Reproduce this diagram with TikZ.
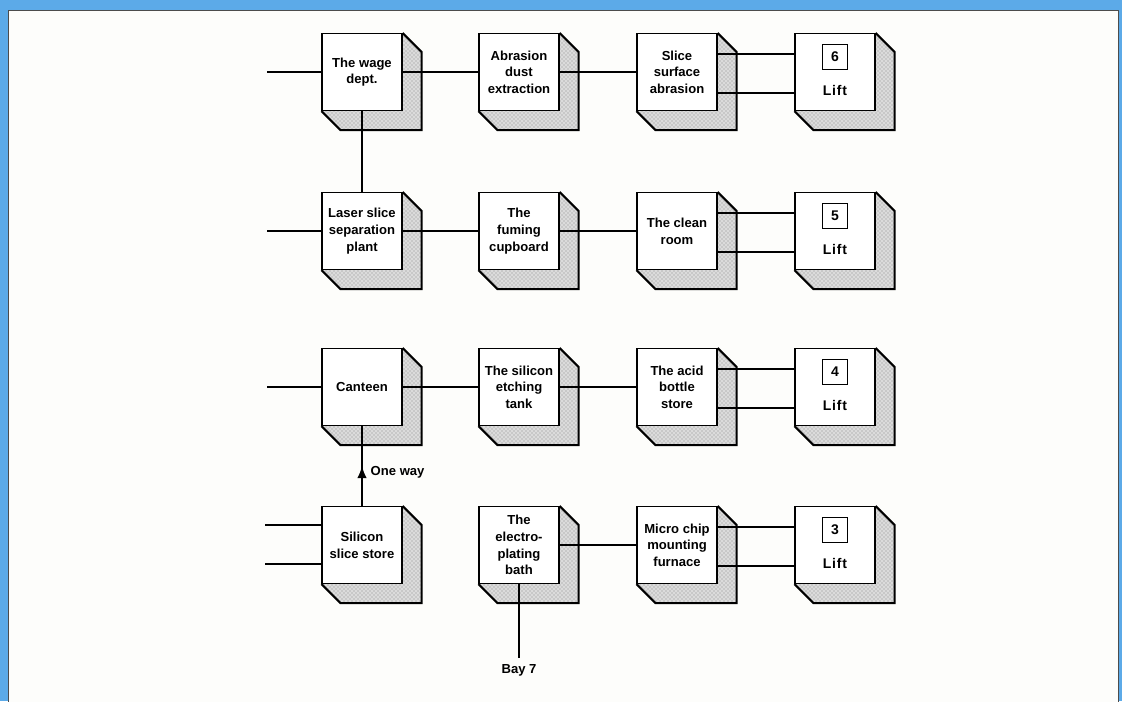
\documentclass[tikz,border=0pt]{standalone}
\usepackage{fontspec}
\setmainfont{Liberation Sans}
\usetikzlibrary{positioning, arrows.meta, calc, decorations.markings, patterns, backgrounds}
\definecolor{pageblue}{RGB}{92,170,232}
\definecolor{paper}{RGB}{253,253,251}
\tikzset{
    room/.style={draw, fill=white, line width=0.9pt, minimum width=60pt, minimum height=57.75pt,
        align=center, inner sep=1pt, font=\fontsize{9.8}{12.5}\selectfont\bfseries},
    liftno/.style={draw, line width=0.9pt, minimum size=18.75pt, inner sep=0pt, font=\fontsize{10.5}{12}\selectfont\bfseries},
    lbl/.style={font=\fontsize{9.8}{12.5}\selectfont\bfseries, inner sep=1pt},
    lifttxt/.style={font=\fontsize{10.5}{12.5}\selectfont\bfseries\addfontfeature{LetterSpace=6}, inner sep=1pt},
    shadowfill/.style={fill=black!14, postaction={pattern=crosshatch dots, pattern color=black!45}},
    shadowedge/.style={line width=1.6pt, line join=miter},
    link/.style={line width=1.1pt},
    midarrow/.style={postaction={decorate}, decoration={markings,
        mark=at position 0.5 with {\arrow{Latex[length=9pt, width=7pt]}}}}
}
\begin{document}
\begin{tikzpicture}[x=0.75pt, y=-0.75pt]
    \useasboundingbox (0,0) rectangle (1122,701);
    % page and panel
    \begin{scope}[on background layer]
        \fill[pageblue] (0,0) rectangle (1122,701);
        \filldraw[fill=paper, draw=black!70, line width=0.6pt] (8,10) rectangle (1118,706);
    \end{scope}

    % Row 6
    \node[room] (wage) at (362,72) {The wage\\dept.};
    \node[room] (abrasion) at (519,72) {Abrasion\\dust\\extraction};
    \node[room] (slice) at (677,72) {Slice\\surface\\abrasion};
    \node[room] (lift6) at (835,72) {};
    % Row 5
    \node[room] (laser) at (362,231) {Laser slice\\separation\\plant};
    \node[room] (fuming) at (519,231) {The\\fuming\\cupboard};
    \node[room] (clean) at (677,231) {The clean\\room};
    \node[room] (lift5) at (835,231) {};
    % Row 4
    \node[room] (canteen) at (362,387) {Canteen};
    \node[room] (etching) at (519,387) {The silicon\\etching\\tank};
    \node[room] (acid) at (677,387) {The acid\\bottle\\store};
    \node[room] (lift4) at (835,387) {};
    % Row 3
    \node[room] (silicon) at (362,545) {Silicon\\slice store};
    \node[room] (electro) at (519,545) {The\\electro-\\plating\\bath};
    \node[room] (micro) at (677,545) {Micro chip\\mounting\\furnace};
    \node[room] (lift3) at (835,545) {};

    % Lift numbers
    \foreach \l/\n in {lift6/6, lift5/5, lift4/4, lift3/3} {
        \node[liftno] (\l no) at ($(\l.center)+(0,-15)$) {\n};
        \node[lifttxt] (\l txt) at ($(\l.center)+(0,18)$) {Lift};
    }

    % Shadows
    \begin{scope}[on background layer]
        \foreach \r in {wage,abrasion,slice,lift6,laser,fuming,clean,lift5,canteen,etching,acid,lift4,silicon,electro,micro,lift3} {
            \fill[shadowfill] (\r.north east) -- ++(19,19) -- ($(\r.south east)+(19,19)$)
                -- ($(\r.south west)+(19,19)$) -- (\r.south west) -- (\r.south east) -- cycle;
            \draw[shadowedge] (\r.north east) -- ++(19,19) -- ($(\r.south east)+(19,19)$)
                -- ($(\r.south west)+(19,19)$) -- (\r.south west);
        }
    \end{scope}

    % Free ends
    \coordinate (in6) at (267,72);
    \coordinate (in5) at (267,231);
    \coordinate (in4) at (267,387);
    \coordinate (in3a) at (265,525);
    \coordinate (in3b) at (265,564);
    \coordinate (bay) at (519,658);

    % Corridors
    \draw[link] (in6) -- (wage.west);
    \draw[link] (wage.east) -- (abrasion.west);
    \draw[link] (abrasion.east) -- (slice.west);
    \draw[link] (wage.south) -- (laser.north);
    \draw[link] (in5) -- (laser.west);
    \draw[link] (laser.east) -- (fuming.west);
    \draw[link] (fuming.east) -- (clean.west);
    \draw[link] (in4) -- (canteen.west);
    \draw[link] (canteen.east) -- (etching.west);
    \draw[link] (etching.east) -- (acid.west);
    \draw[link] (in3a) -- (in3a -| silicon.west);
    \draw[link] (in3b) -- (in3b -| silicon.west);
    \draw[link] (electro.east) -- (micro.west);
    \draw[link, midarrow] (silicon.north) -- node[pos=0.42, right=5pt, lbl] {One way} (canteen.south);
    \draw[link] (electro.south) -- (bay) node[below=3pt, lbl] {Bay 7};

    % Lift doors
    \foreach \a/\b in {slice/lift6, clean/lift5, acid/lift4, micro/lift3} {
        \draw[link] ($(\a.east)+(0,-18)$) -- ($(\b.west)+(0,-18)$);
        \draw[link] ($(\a.east)+(0,21)$) -- ($(\b.west)+(0,21)$);
    }
\end{tikzpicture}
\end{document}
